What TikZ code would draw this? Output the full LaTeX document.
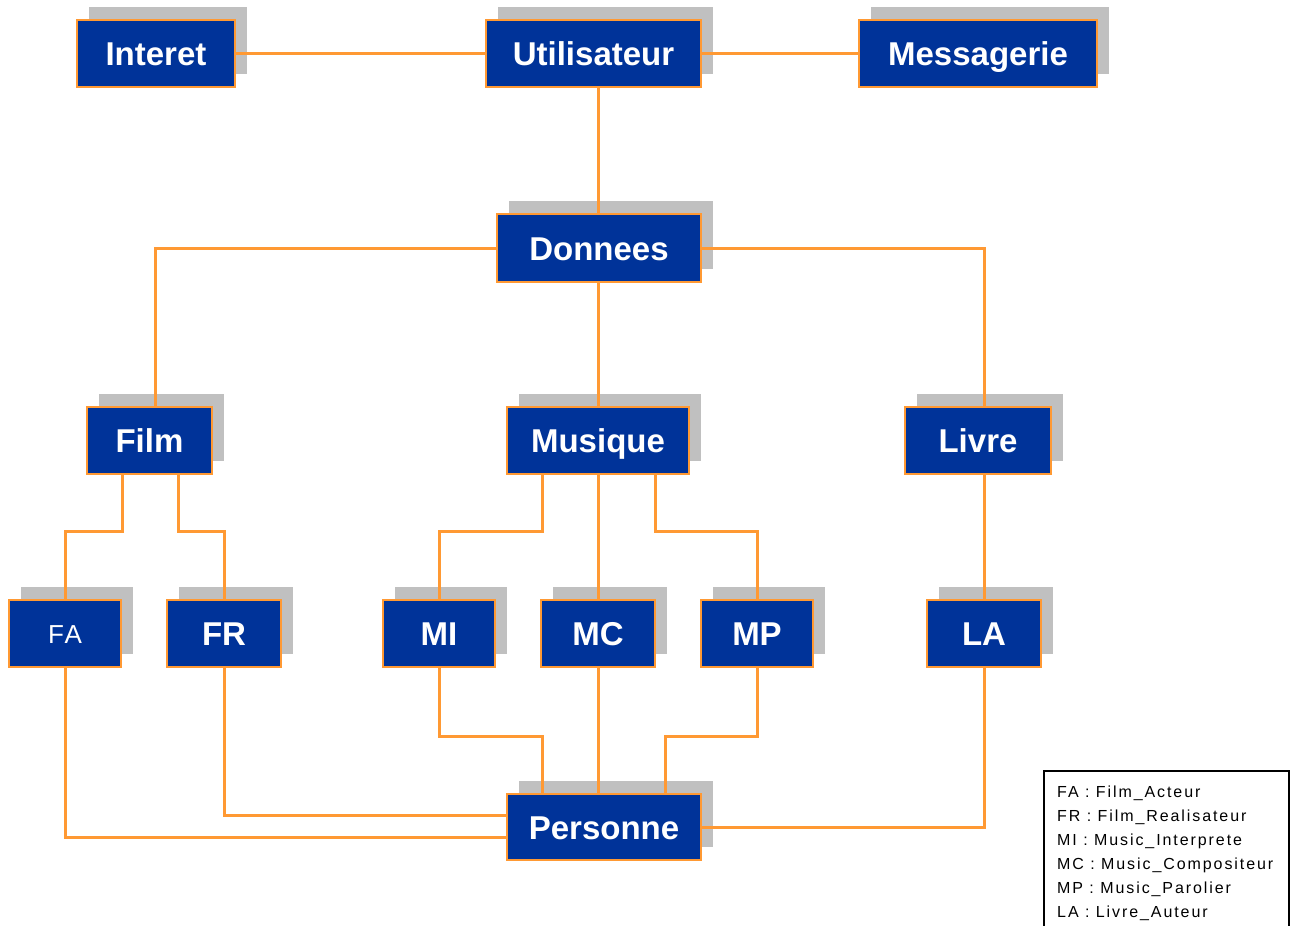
\documentclass[tikz,border=0pt]{standalone}
\usepackage{fontspec}
\setmainfont{Liberation Sans}
\newfontfamily\legfont[LetterSpace=12]{Liberation Sans}
\newfontfamily\fafont[LetterSpace=8]{Liberation Sans}
\usetikzlibrary{shadows}
\definecolor{boxblue}{HTML}{003399}
\definecolor{lineorange}{HTML}{FF9933}
\definecolor{shadowgray}{HTML}{C0C0C0}
\tikzset{
  ent/.style={draw=lineorange, line width=1.5pt, fill=boxblue, text=white,
    minimum height=67pt, inner sep=0pt, text height=24pt, text depth=0pt,
    font=\bfseries\fontsize{33}{33}\selectfont,
    drop shadow={shadow xshift=12pt, shadow yshift=13pt, fill=shadowgray, opacity=1, draw=none}},
  link/.style={draw=lineorange, line width=3pt},
}
\begin{document}
\begin{tikzpicture}[x=1pt,y=-1pt]
\useasboundingbox (0,0) rectangle (1290,926);
% nodes
\node[ent, minimum width=158pt] (interet) at (156,53.5) {Interet};
\node[ent, minimum width=215pt] (util) at (593.5,53.5) {Utilisateur};
\node[ent, minimum width=238pt] (mess) at (978,53.5) {Messagerie};
\node[ent, minimum width=204pt, minimum height=68pt] (donnees) at (599,248) {Donnees};
\node[ent, minimum width=125pt] (film) at (149.5,440.5) {Film};
\node[ent, minimum width=182pt] (musique) at (598,440.5) {Musique};
\node[ent, minimum width=146pt] (livre) at (978,440.5) {Livre};
\node[ent, minimum width=112pt, text height=19pt, font=\fafont\fontsize{26}{26}\selectfont] (fa) at (65,633.5) {FA};
\node[ent, minimum width=114pt] (fr) at (224,633.5) {FR};
\node[ent, minimum width=112pt] (mi) at (439,633.5) {MI};
\node[ent, minimum width=114pt] (mc) at (598,633.5) {MC};
\node[ent, minimum width=112pt] (mp) at (757,633.5) {MP};
\node[ent, minimum width=114pt] (la) at (984,633.5) {LA};
\node[ent, minimum width=194pt, minimum height=66pt] (personne) at (604,827) {Personne};
% connectors
\draw[link] (interet.east) -- (util.west);
\draw[link] (util.east) -- (mess.west);
\draw[link] ([xshift=4.5pt]util.south) -- ([xshift=-1pt]donnees.north);
\draw[link] (donnees.west) -| ([xshift=5.5pt]film.north);
\draw[link] (donnees.east) -| (la.north |- livre.north);
\draw[link] (musique.north |- donnees.south) -- (musique.north);
\draw[link] ([xshift=-27.5pt]film.south) -- ++(0,57) -| (fa.north);
\draw[link] ([xshift=28.5pt]film.south) -- ++(0,57) -| (fr.north);
\draw[link] ([xshift=-56pt]musique.south) -- ++(0,57) -| (mi.north);
\draw[link] (musique.south) -- (mc.north);
\draw[link] ([xshift=57pt]musique.south) -- ++(0,57) -| (mp.north);
\draw[link] (la.north |- livre.south) -- (la.north);
\draw[link] (fa.south) |- ([yshift=-10pt]personne.west);
\draw[link] (fr.south) |- ([yshift=12pt]personne.west);
\draw[link] (mi.south) -- ++(0,69) -| ([xshift=-62pt]personne.north);
\draw[link] (mc.south) -- (mc.south |- personne.north);
\draw[link] (mp.south) -- ++(0,69) -| ([xshift=61pt]personne.north);
\draw[link] (la.south) |- (personne.east);
% legend
\node[draw=black, line width=2pt, anchor=north west, minimum width=245.5pt, minimum height=170pt,
  inner sep=0pt] (legbox) at (1042.5,769.5) {};
\node[anchor=north west, align=left, inner sep=0pt,
  font=\legfont\fontsize{16}{24}\selectfont] (legend) at (1057,786)
  {FA : Film\_Acteur\\FR : Film\_Realisateur\\MI : Music\_Interprete\\MC : Music\_Compositeur\\MP : Music\_Parolier\\LA : Livre\_Auteur};
\end{tikzpicture}
\end{document}
